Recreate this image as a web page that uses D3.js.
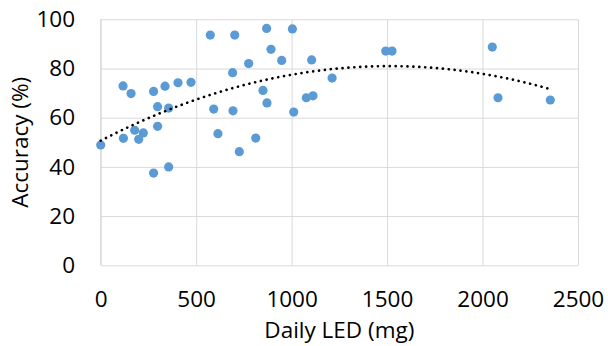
<!DOCTYPE html>
<html>
<head>
<meta charset="utf-8">
<script src="https://cdn.jsdelivr.net/npm/d3@7"></script>
<style>
  html, body { margin: 0; padding: 0; background: #fff; }
  #chart_scatter text { font-family: 'Open Sans', sans-serif; fill: #000; }
</style>
</head>
<body>
<div id="chart_scatter"></div>
<script>
// daily LED dose (mg) and accuracy (%) per subject
const ledDose = [
  0, 117, 159, 119, 178, 199, 223, 277, 298, 337,
  356, 298, 405, 473, 574, 702, 869, 892, 775, 691,
  850, 592, 693, 871, 614, 812, 726, 277, 356, 1004,
  948, 1105, 1212, 1077, 1112, 1011, 1493, 1526, 2051, 2081,
  2355,
];
const accuracy = [
  48.9, 72.9, 69.8, 51.6, 54.9, 51.2, 53.8, 70.7, 64.5, 72.8,
  63.9, 56.5, 74.2, 74.4, 93.6, 93.6, 96.3, 87.8, 82.0, 78.3,
  71.1, 63.5, 62.8, 66.0, 53.5, 51.7, 46.2, 37.5, 40.0, 96.1,
  83.3, 83.5, 76.1, 68.1, 68.9, 62.3, 87.1, 87.1, 88.7, 68.1,
  67.2,
];
const xTicks = [0, 500, 1000, 1500, 2000, 2500];
const yTicks = [0, 20, 40, 60, 80, 100];
const xTitle = 'Daily LED (mg)';
const yTitle = 'Accuracy (%)';

const data = ledDose.map((d, i) => ({ x: d, y: accuracy[i] }));

// 2nd order least squares fit (same as the excel polynomial trendline)
function polyFit2(points) {
  let s = [0, 0, 0, 0, 0];
  let t = [0, 0, 0];
  points.forEach(p => {
    let xp = 1;
    for (let k = 0; k < 5; k++) {
      s[k] += xp;
      if (k < 3) t[k] += xp * p.y;
      xp *= p.x;
    }
  });
  const m = [
    [s[0], s[1], s[2], t[0]],
    [s[1], s[2], s[3], t[1]],
    [s[2], s[3], s[4], t[2]],
  ];
  for (let c = 0; c < 3; c++) {
    for (let r = c + 1; r < 3; r++) {
      const f = m[r][c] / m[c][c];
      for (let k = c; k < 4; k++) m[r][k] -= f * m[c][k];
    }
  }
  const coef = [0, 0, 0];
  for (let r = 2; r >= 0; r--) {
    let v = m[r][3];
    for (let k = r + 1; k < 3; k++) v -= m[r][k] * coef[k];
    coef[r] = v / m[r][r];
  }
  return coef;
}

function drawScatter() {
  const svgWidth = 608;
  const svgHeight = 346;
  const margin = { top: 19.3, right: 30, bottom: 80.7, left: 100.7 };
  const width = svgWidth - margin.left - margin.right;
  const height = svgHeight - margin.top - margin.bottom;

  const svg = d3.select('#chart_scatter').append('svg')
    .attr('width', svgWidth)
    .attr('height', svgHeight);

  const g = svg.append('g')
    .attr('transform', `translate(${margin.left},${margin.top})`);

  const x = d3.scaleLinear().domain([0, 2500]).range([0, width]);
  const y = d3.scaleLinear().domain([0, 100]).range([height, 0]);

  // x grid + labels
  const gx = g.append('g')
    .attr('transform', `translate(0,${height})`)
    .call(d3.axisBottom(x).tickValues(xTicks).tickSize(-height).tickFormat(d3.format('d')));
  gx.select('.domain').remove();
  gx.selectAll('line').attr('stroke', '#d9d9d9').attr('stroke-width', 1);
  gx.selectAll('text')
    .attr('y', 41.4)
    .attr('dy', null)
    .style('font-size', '22.5px');

  // y grid + labels
  const gy = g.append('g')
    .call(d3.axisLeft(y).tickValues(yTicks).tickSize(-width).tickPadding(25.7));
  gy.select('.domain').remove();
  gy.selectAll('line').attr('stroke', '#d9d9d9').attr('stroke-width', 1);
  gy.selectAll('text').style('font-size', '22.5px');

  // left axis line
  g.append('line')
    .attr('x1', 0).attr('x2', 0)
    .attr('y1', 0).attr('y2', height)
    .attr('stroke', '#d9d9d9');

  g.selectAll('circle.pt')
    .data(data)
    .enter()
    .append('circle')
    .attr('class', 'pt')
    .attr('cx', d => x(d.x))
    .attr('cy', d => y(d.y))
    .attr('r', 4.6)
    .attr('fill', '#5b9bd5');

  const coef = polyFit2(data);
  const xMax = d3.max(ledDose);
  const trend = d3.range(0, xMax + 1, 10).concat([xMax])
    .map(v => ({ x: v, y: coef[0] + coef[1] * v + coef[2] * v * v }));

  g.append('path')
    .datum(trend)
    .attr('fill', 'none')
    .attr('stroke', '#000')
    .attr('stroke-width', 2.7)
    .attr('stroke-linecap', 'round')
    .attr('stroke-dasharray', '0.01 5.9')
    .attr('d', d3.line().x(d => x(d.x)).y(d => y(d.y)));

  svg.append('text')
    .attr('x', margin.left + x(1250))
    .attr('y', 338)
    .attr('text-anchor', 'middle')
    .style('font-size', '22.5px')
    .text(xTitle);

  svg.append('text')
    .attr('transform', `translate(28,${margin.top + height / 2}) rotate(-90)`)
    .attr('text-anchor', 'middle')
    .style('font-size', '22.5px')
    .text(yTitle);
}

drawScatter();
</script>
</body>
</html>
